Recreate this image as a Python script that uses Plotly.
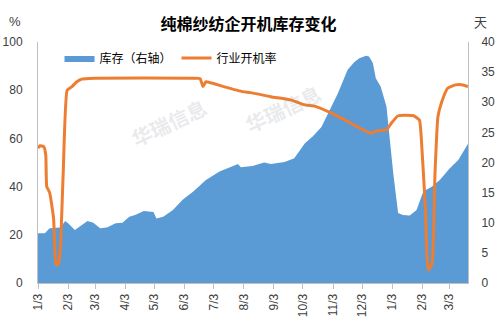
import plotly.graph_objects as go

# 库存（右轴）, days
stock_dates = [
    "2017-01-03", "2017-01-10", "2017-01-15", "2017-01-26", "2017-01-31", "2017-02-03",
    "2017-02-10", "2017-02-23", "2017-03-01", "2017-03-08", "2017-03-15", "2017-03-24",
    "2017-03-31", "2017-04-07", "2017-04-13", "2017-04-22", "2017-05-02", "2017-05-05",
    "2017-05-12", "2017-05-22", "2017-06-01", "2017-06-12", "2017-06-25", "2017-07-09",
    "2017-07-23", "2017-07-28", "2017-07-31", "2017-08-12", "2017-08-24", "2017-08-31",
    "2017-09-14", "2017-09-24", "2017-10-05", "2017-10-13", "2017-10-22", "2017-10-29",
    "2017-11-08", "2017-11-18", "2017-11-25", "2017-11-30", "2017-12-07", "2017-12-10",
    "2017-12-14", "2017-12-17", "2017-12-22", "2017-12-28", "2017-12-31", "2018-01-04",
    "2018-01-09", "2018-01-14", "2018-01-21", "2018-01-28", "2018-02-04", "2018-02-13",
    "2018-02-21", "2018-03-03", "2018-03-12", "2018-03-22",
]
stock_days = [
    8.25, 8.25, 9.1, 9.2, 10.3, 9.9,
    8.8, 10.3, 10.0, 9.1, 9.2, 9.9,
    10.0, 11.0, 11.3, 11.95, 11.8, 10.7,
    11.0, 12.1, 13.8, 15.2, 17.1, 18.5,
    19.4, 19.75, 19.2, 19.4, 20.0, 19.75,
    20.1, 20.7, 23.2, 24.3, 25.9, 28.2,
    31.5, 35.4, 36.7, 37.3, 37.7, 37.6,
    36.5, 34.0, 32.6, 29.3, 24.3, 18.2,
    11.6, 11.3, 11.2, 12.1, 15.2, 16.0,
    17.1, 19.0, 20.4, 23.1,
]

# 行业开机率, %
rate_dates = [
    "2017-01-03", "2017-01-05", "2017-01-09", "2017-01-11", "2017-01-12", "2017-01-15",
    "2017-01-19", "2017-01-21", "2017-01-22", "2017-01-24", "2017-01-26", "2017-01-29",
    "2017-02-02", "2017-02-07", "2017-02-12", "2017-02-17", "2017-03-02", "2017-06-12",
    "2017-06-19", "2017-06-22", "2017-06-25", "2017-07-13", "2017-08-02", "2017-08-10",
    "2017-08-31", "2017-09-21", "2017-10-05", "2017-10-15", "2017-10-29", "2017-11-12",
    "2017-11-30", "2017-12-12", "2017-12-19", "2017-12-28", "2018-01-02", "2018-01-09",
    "2018-01-25", "2018-01-31", "2018-02-02", "2018-02-06", "2018-02-09", "2018-02-13",
    "2018-02-16", "2018-02-19", "2018-02-23", "2018-03-01", "2018-03-09", "2018-03-17",
    "2018-03-22",
]
rate_pct = [
    56.0, 57.0, 56.5, 53.0, 40.0, 37.5,
    27.0, 9.0, 7.5, 8.0, 14.0, 46.0,
    80.0, 81.5, 83.5, 84.6, 85.0, 85.0,
    84.8, 81.5, 83.5, 81.5, 79.4, 79.0,
    77.3, 75.9, 73.9, 73.4, 71.1, 68.3,
    64.4, 62.1, 63.2, 63.5, 66.3, 69.4,
    69.4, 67.6, 59.3, 31.7, 5.4, 8.2,
    45.5, 69.0, 75.2, 80.8, 82.2, 82.2,
    81.5,
]

tick_vals = [
    "2017-01-03", "2017-02-03", "2017-03-03", "2017-04-03", "2017-05-03", "2017-06-03",
    "2017-07-03", "2017-08-03", "2017-09-03", "2017-10-03", "2017-11-03", "2017-12-03",
    "2018-01-03", "2018-02-03", "2018-03-03",
]
tick_text = ["1/3", "2/3", "3/3", "4/3", "5/3", "6/3", "7/3", "8/3", "9/3",
             "10/3", "11/3", "12/3", "1/3", "2/3", "3/3"]

FONT = "Liberation Sans, Noto Sans CJK SC, sans-serif"
TXT = "#404040"
AX = "#BFBFBF"

fig = go.Figure()
fig.add_trace(go.Scatter(
    x=stock_dates, y=stock_days, name="库存（右轴）", yaxis="y",
    mode="lines", fill="tozeroy", line=dict(width=0, color="#5B9BD5"),
    fillcolor="#5B9BD5",
))
fig.add_trace(go.Scatter(
    x=rate_dates, y=rate_pct, name="行业开机率", yaxis="y2",
    mode="lines", line=dict(width=3, color="#ED7D31", shape="spline", smoothing=0.4),
))

fig.update_layout(
    width=497, height=323,
    margin=dict(l=38, r=29, t=42, b=40, autoexpand=False),
    paper_bgcolor="white", plot_bgcolor="white",
    font=dict(family=FONT, size=12, color=TXT),
    title=dict(text="<b>纯棉纱纺企开机库存变化</b>", x=0.5, xanchor="center",
               y=0.925, yanchor="middle",
               font=dict(family="Noto Sans CJK SC, sans-serif", size=16, color="#000000")),
    showlegend=True,
    legend=dict(orientation="h", x=0.05, y=0.934, xanchor="left", yanchor="middle",
                bgcolor="rgba(0,0,0,0)", font=dict(size=12, color="#000000"),
                itemwidth=30, tracegroupgap=0),
    xaxis=dict(
        type="date", range=["2017-01-03", "2018-03-22"], automargin=False,
        tickmode="array", tickvals=tick_vals, ticktext=tick_text, tickangle=-90,
        ticks="outside", ticklen=5, tickcolor=AX, showline=True, linecolor=AX,
        showgrid=False, zeroline=False, tickfont=dict(size=12, color=TXT),
    ),
    yaxis=dict(
        side="right", range=[0, 40], dtick=5, showgrid=False, zeroline=False,
        automargin=False, ticklabelstandoff=10,
        showline=True, linecolor=AX, ticks="", tickfont=dict(size=12, color=TXT),
    ),
    yaxis2=dict(
        side="left", overlaying="y", range=[0, 100], dtick=20, showgrid=False,
        automargin=False, ticklabelstandoff=12,
        zeroline=False, showline=True, linecolor=AX, ticks="",
        tickfont=dict(size=12, color=TXT),
    ),
    annotations=[
        dict(text="%", xref="paper", yref="paper", x=-0.053, y=1.083,
             xanchor="center", yanchor="middle",
             showarrow=False, font=dict(size=13, color=TXT)),
        dict(text="天", xref="paper", yref="paper", x=1.028, y=1.083,
             xanchor="center", yanchor="middle",
             showarrow=False, font=dict(size=13, color=TXT,
                                        family="Noto Sans CJK SC, sans-serif")),
        dict(text="<b>华瑞信息</b>", xref="paper", yref="paper", x=0.2, y=0.8,
             textangle=-25, showarrow=False, opacity=0.18,
             font=dict(size=20, color="#8a8f9c", family="Noto Sans CJK SC, sans-serif")),
        dict(text="<b>华瑞信息</b>", xref="paper", yref="paper", x=0.57, y=0.86,
             textangle=-25, showarrow=False, opacity=0.18,
             font=dict(size=20, color="#8a8f9c", family="Noto Sans CJK SC, sans-serif")),
    ],
)

fig.write_html("out.html")
